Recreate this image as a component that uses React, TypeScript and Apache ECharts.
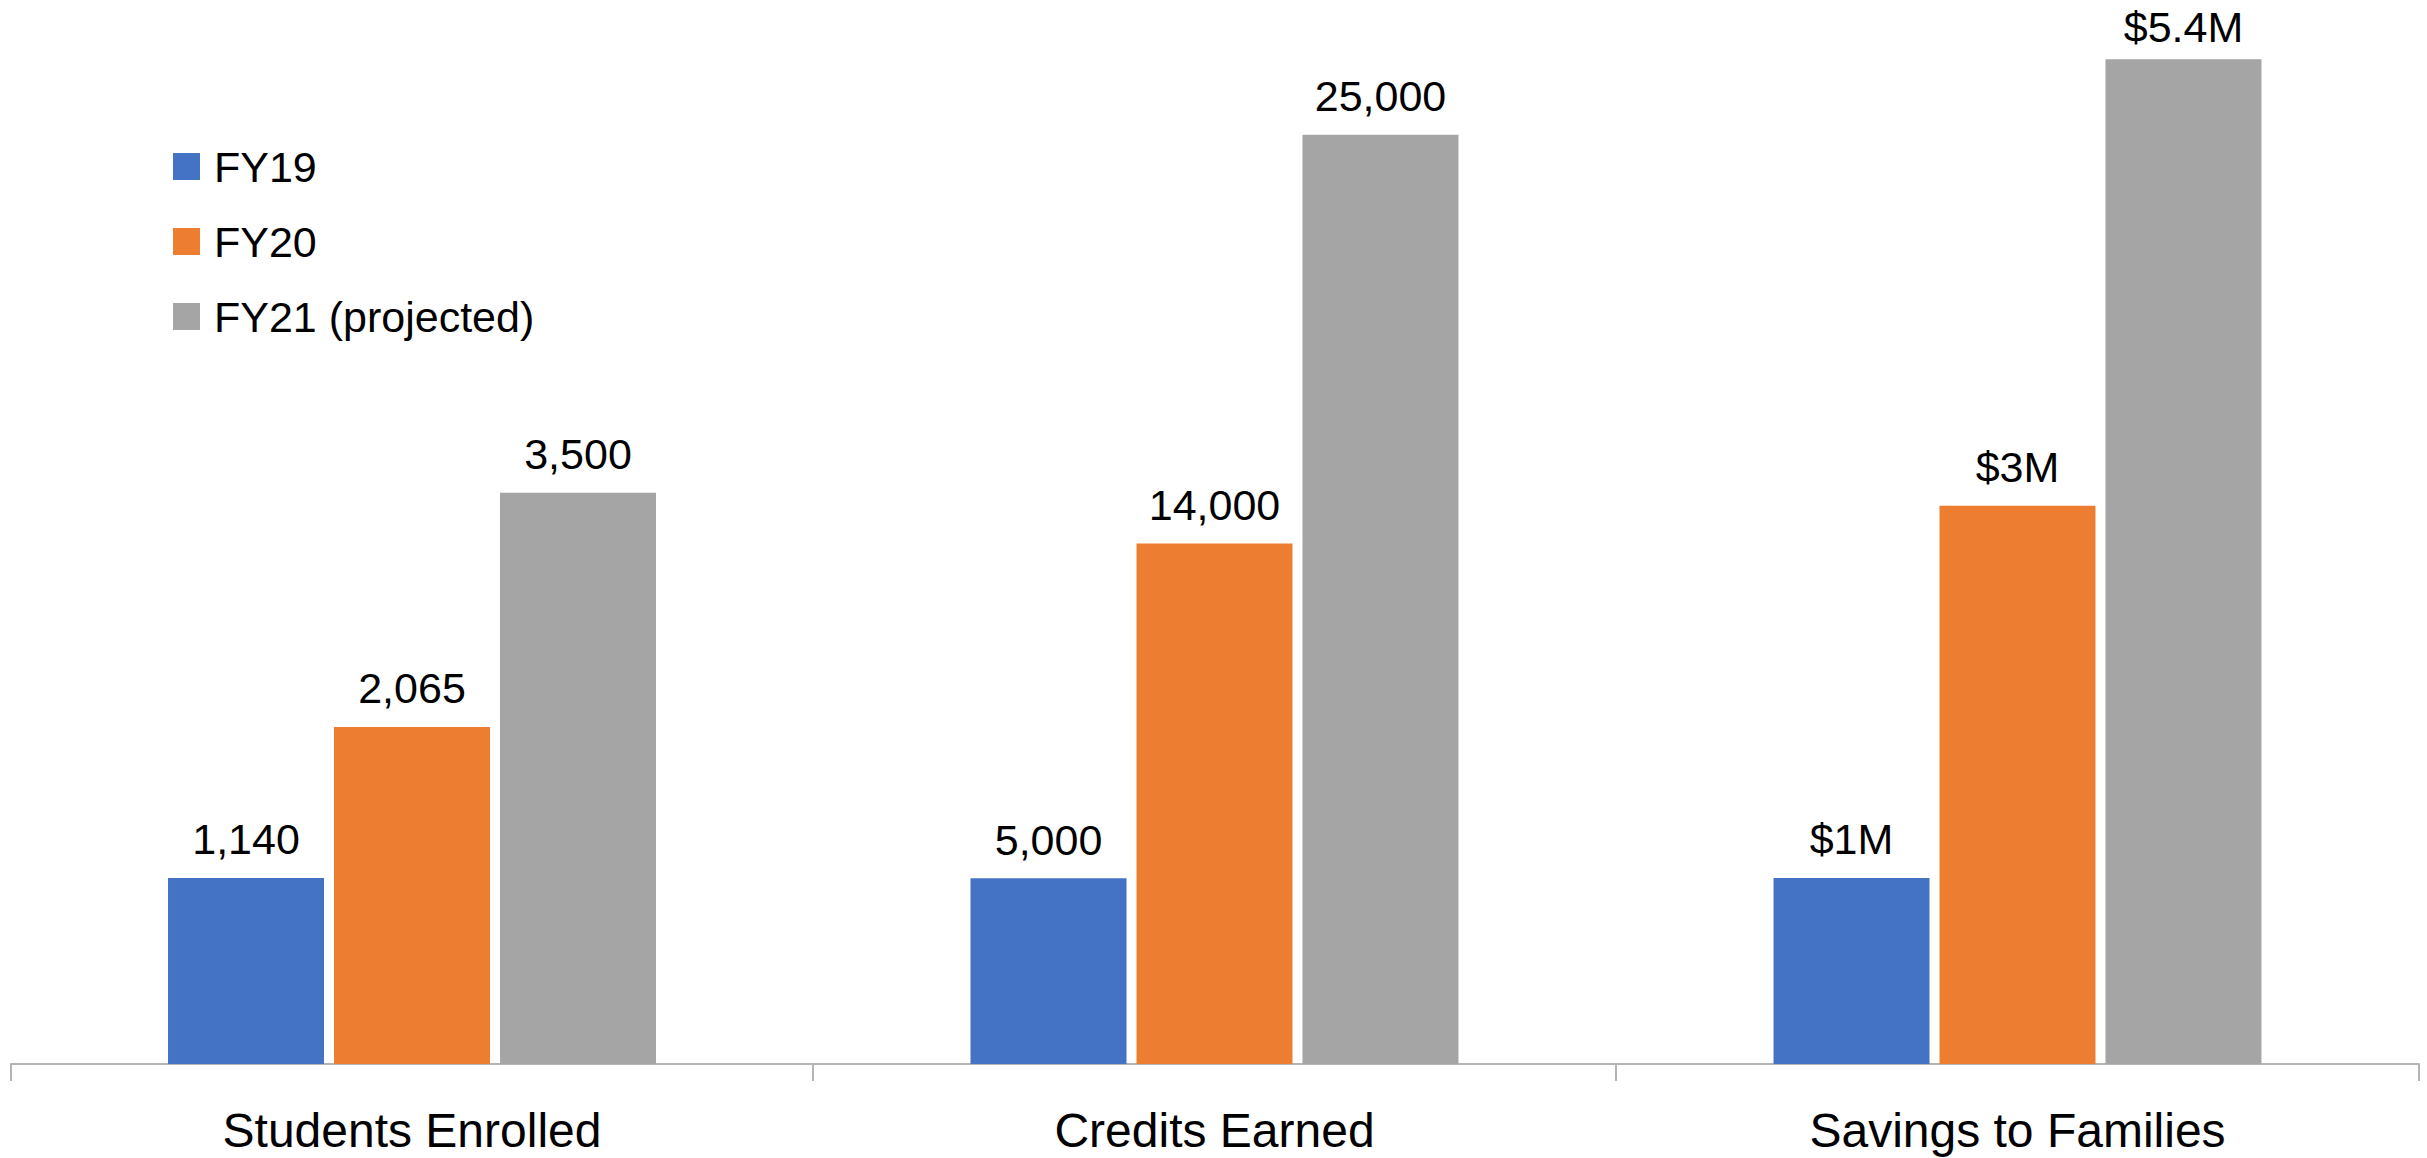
import React, { useEffect, useRef } from "react";
import * as echarts from "echarts";

const categories = ["Students Enrolled", "Credits Earned", "Savings to Families"];
const seriesNames = ["FY19", "FY20", "FY21 (projected)"];
const fy19 = [1140, 5000, 1];
const fy20 = [2065, 14000, 3];
const fy21 = [3500, 25000, 5.4];
// each category is drawn on its own value scale
const axisMax = [6273, 27546, 5.504];
const colors = ["#4472C4", "#ED7D31", "#A5A5A5"];

const FONT = "'Liberation Sans', Arial, sans-serif";

const gridEdges = [11, 813, 1616, 2419];
const GRID_TOP = 40;
const GRID_H = 1024;
const LABEL_DIST = 17;
const LABEL_BOX = 48;

function fmt(catIndex: number, v: number): string {
  if (catIndex === 2) return "$" + v + "M";
  return v.toLocaleString("en-US");
}

export default function App() {
  const ref = useRef<HTMLDivElement>(null);
  useEffect(() => {
    if (!ref.current) return;
    const chart = echarts.init(ref.current, null, { renderer: "svg" });
    const seriesData = [fy19, fy20, fy21];
    const grids = categories.map((_, i) => ({
      left: gridEdges[i],
      width: gridEdges[i + 1] - gridEdges[i],
      top: GRID_TOP,
      height: GRID_H,
    }));
    const xAxes = categories.map((c, i) => ({
      type: "category",
      gridIndex: i,
      data: [c],
      axisLine: { show: true, lineStyle: { color: "#B4B4B4", width: 2 } },
      axisTick: { show: true, length: 17, lineStyle: { color: "#B4B4B4", width: 2 } },
      axisLabel: { show: true, interval: 0, margin: 42, fontSize: 48, color: "#000", fontFamily: FONT },
      splitLine: { show: false },
    }));
    const yAxes = categories.map((_, i) => ({
      type: "value",
      gridIndex: i,
      min: 0,
      max: axisMax[i],
      show: false,
      splitLine: { show: false },
    }));
    const series: any[] = [];
    categories.forEach((_, ci) => {
      seriesNames.forEach((name, si) => {
        const v = seriesData[si][ci];
        // keep the label inside the chart area (as the original does)
        const barTop = GRID_TOP + GRID_H * (1 - v / axisMax[ci]);
        const dist = barTop - LABEL_DIST - LABEL_BOX < 0 ? Math.max(barTop - LABEL_BOX, 0) : LABEL_DIST;
        series.push({
          type: "bar",
          name,
          xAxisIndex: ci,
          yAxisIndex: ci,
          data: [{ value: v, label: { distance: dist } }],
          barWidth: 156,
          barGap: "6.4%",
          itemStyle: { color: colors[si] },
          label: {
            show: true,
            position: "top",
            distance: LABEL_DIST,
            fontSize: 43,
            color: "#000",
            fontFamily: FONT,
            formatter: (p: any) => fmt(ci, p.value),
          },
        });
      });
    });
    chart.setOption({
      animation: false,
      backgroundColor: "#fff",
      grid: grids,
      xAxis: xAxes,
      yAxis: yAxes,
      legend: {
        show: true,
        orient: "vertical",
        left: 168,
        top: 140,
        itemWidth: 27,
        itemHeight: 27,
        itemGap: 32,
        icon: "rect",
        data: seriesNames,
        textStyle: { fontSize: 43, lineHeight: 42, color: "#000", fontFamily: FONT, padding: [0, 0, 0, 9] },
      },
      series,
    });
    return () => chart.dispose();
  }, []);
  return (
    <div
      ref={ref}
      style={{ position: "absolute", left: 0, top: 0, width: 2427, height: 1158 }}
    />
  );
}
